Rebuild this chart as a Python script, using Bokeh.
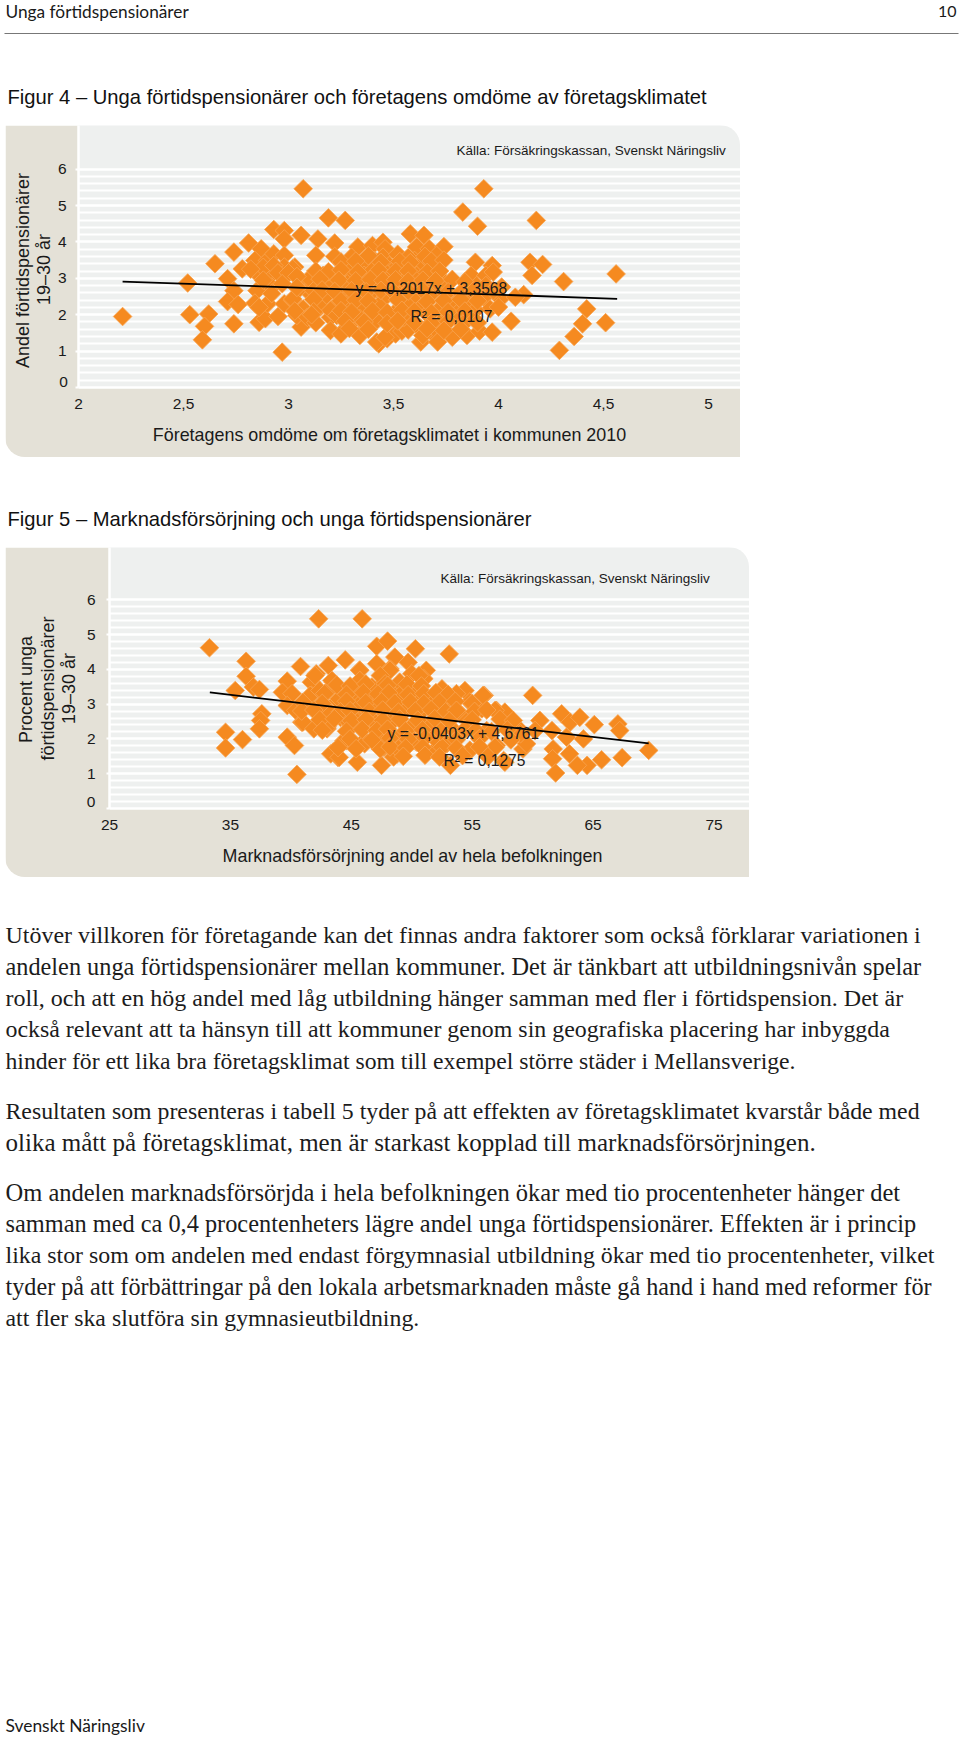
from math import pi
from bokeh.plotting import figure
from bokeh.models import Range1d, FixedTicker, ColumnDataSource
from bokeh.core.properties import value
from bokeh.embed import file_html
from bokeh.resources import INLINE

fig4_x = [2.21,2.52,2.53,2.62,2.65,2.60,2.59,2.74,2.74,2.71,2.78,2.74,2.71,2.76,2.81,2.87,2.84,2.9,2.93,2.86,2.85,2.84,2.86,2.89,2.9,2.95,2.98,2.97,2.93,2.98,2.98,3.06,3.07,3.19,3.27,3.14,3.22,3.13,3.22,2.98,2.98,3.03,2.98,2.92,2.92,3.06,3.09,3.09,3.02,3.06,3.06,3.15,3.2,3.25,3.34,
3.83,3.90,3.58,3.645,3.33,3.40,3.45,3.46,3.61,3.67,3.74,3.705,3.28,3.35,3.41,3.45,3.48,3.515,3.60,3.64,3.69,3.71,3.89,3.97,3.87,3.94,3.975,3.02,3.10,3.165,3.29,3.36,3.40,3.47,3.53,3.61,3.67,3.74,3.21,3.28,3.35,3.42,3.48,3.555,3.63,3.70,3.896,3.94,3.05,3.12,3.18,3.245,3.325,3.39,3.46,3.53,3.60,3.67,3.80,3.86,3.93,4.01,3.96,3.89,3.02,3.07,3.15,3.21,3.28,3.35,3.43,3.50,3.56,3.64,3.72,3.80,3.86,3.04,3.09,3.20,3.245,3.31,3.39,3.41,3.20,3.25,3.34,3.43,3.47,3.51,3.54,3.57,3.63,3.63,3.69,3.71,3.78,3.85,3.91,3.97,3.64,3.75,3.55,3.66,3.72,
3.93,4.18,4.15,4.21,4.16,4.31,4.56,4.12,4.08,4.42,4.40,4.36,4.51,4.29,4.06,4.0,3.976,4.015,3.2,3.23,3.28,3.34,3.42,3.42,3.46,
3.30,3.38,3.52,3.57,3.65,3.25,3.32,3.44,3.53,3.58,3.68,3.74,3.13,3.19,3.25,3.33,3.43,3.51,3.57,3.66,3.72,3.15,3.24,3.32,3.39,3.45,3.51,3.57,3.64,3.70,3.78,3.84,3.16,3.22,3.30,3.37,3.44,3.50,3.57,3.64,3.76,3.82,3.88,3.12,3.25,3.32,3.38,3.52,3.66,3.74,3.82,3.90,3.12,3.25,3.30,3.40,3.47,3.54,3.60,3.68,3.76,3.84,3.13,3.27,3.36,3.47,3.52,3.60,3.68,3.76,3.83,3.90,3.29,3.38,3.66,3.74,3.82,2.88,2.93,2.95,2.88,2.92,2.86,3.0,3.04,3.04,2.97,3.03,3.11,2.82]
fig4_y = [1.95,2.87,2.0,2.02,3.40,1.68,1.31,3.72,1.75,2.99,3.26,2.66,2.36,2.28,3.97,3.81,3.49,3.49,3.67,3.08,2.66,2.32,1.79,1.89,2.30,1.95,2.30,0.97,4.34,4.31,4.08,4.18,5.46,4.66,4.59,4.08,3.97,3.63,3.6,3.63,3.31,3.31,3.03,3.12,2.76,2.94,2.94,2.66,2.39,2.12,1.66,2.21,1.57,1.49,1.47,
4.82,4.43,4.22,4.18,3.86,3.90,3.99,3.81,3.86,3.81,3.87,3.63,3.35,3.40,3.49,3.58,3.35,3.31,3.49,3.40,3.31,3.12,3.44,3.35,3.08,3.08,3.17,3.26,2.99,3.08,3.21,3.08,3.21,3.12,3.03,3.08,3.03,2.89,2.89,2.85,2.80,2.80,2.80,2.76,2.80,2.66,2.80,2.80,2.71,2.66,2.53,2.57,2.48,2.57,2.48,2.53,2.53,2.53,2.34,2.34,2.48,2.44,2.16,2.12,2.43,2.16,2.21,2.16,2.30,2.21,2.25,2.02,2.30,2.25,2.16,2.02,1.93,1.98,1.93,1.93,2.02,1.84,1.93,1.84,1.57,1.47,1.43,1.20,1.34,1.47,1.55,1.58,1.61,1.25,1.47,1.25,1.38,1.43,1.55,1.52,1.43,1.84,1.93,2.02,1.75,
5.46,4.59,3.44,3.38,3.08,2.91,3.12,2.55,2.48,2.16,1.75,1.40,1.78,1.02,1.82,2.21,2.66,2.76,2.12,1.98,2.12,1.89,1.84,1.25,1.38,
3.58,3.62,3.66,3.57,3.6,3.45,3.47,3.44,3.46,3.43,3.47,3.5,3.2,3.18,3.23,3.17,3.22,3.19,3.2,3.16,3.2,2.98,2.95,2.93,2.97,2.94,2.96,2.92,2.95,2.93,2.97,2.9,2.68,2.64,2.66,2.63,2.67,2.62,2.65,2.66,2.63,2.6,2.65,2.42,2.38,2.4,2.37,2.41,2.36,2.39,2.42,2.38,2.08,2.11,2.07,2.1,2.06,2.12,2.09,2.05,2.08,2.1,1.78,1.82,1.8,1.76,1.83,1.79,1.77,1.81,1.74,1.78,1.62,1.6,1.62,1.57,1.6,3.3,3.35,3.15,2.95,2.58,2.2,3.15,3.05,2.75,2.85,2.1,2.0,3.25]

fig5_x = [33.27,36.3,36.3,35.4,36.9,37.4,37.6,37.5,37.4,34.6,34.6,36.0,39.7,40.3,40.5,40.8,39.7,39.3,40.1,39.7,40.4,40.9,42.3,45.9,44.5,43.1,42.1,41.7,43.5,41.7,43.1,43.9,41.5,42.6,44.1,41.9,43.0,43.5,43.9,44.6,45.5,47.5,47.1,48.0,48.6,47.1,45.7,48.2,45.9,47.7,45.3,46.8,48.5,45.5,47.25,44.9,46.1,47,47.7,48.8,48.2,
50.3,53.1,49.7,51.2,45.7,48.2,42,43.4,45.7,47.4,50,49,51,52.5,54.4,56,53.7,41.6,42.4,44,45.3,46.7,47.8,49,50.4,51.7,52.9,54.8,55.8,57,57.7,43.1,44.4,45.7,47,48.2,49.6,51,54,54.6,41.0,41.9,43,45.5,46.8,48.35,50.1,51.7,53.2,56.2,44.4,46.1,47.4,49.0,50.4,52,52.9,54.8,57,43.3,44,48.5,47.4,48.9,53.2,57.6,
60,55.9,56.9,58.7,60.6,60.2,61.6,62.4,63.1,63.9,62.8,64.2,65.1,67.05,67.2,69.6,67.4,65.7,64.5,63.7,63.05,61.7,61.65,61.9,59.2,59.5,56.9,54.8,52.5,57.7,50.15,58.1,59,51.8,50.6,
43.8,44.9,46.2,48,49.6,50.8,42.8,44.6,46,47.2,48.1,49.7,51,52,53,41,42.6,44.6,46.2,47.5,48.6,49.9,51,52.3,53.6,55,40.9,41.9,44.1,44.9,46.5,47.6,48.9,50.3,51.6,52.8,53.7,55.2,56.2,42.4,43.6,45,46.2,47.6,49,50.5,51.9,53.1,55,57.3,58.4,42.6,44.6,45.9,47.1,48,49.5,50.9,52.4,54.4,55.3,56.6,57.9,44.9,46.7,48.2,49.7,51.1,53.7,55.6,58.2,43.9,45.4,48.2,49.5,50.9,53.7,55.6,49.3,51.1,52.3,54.2,56.3]
fig5_y = [4.62,4.23,3.80,3.39,3.49,3.42,2.72,2.53,2.29,2.19,1.74,1.98,2.05,1.81,0.98,4.08,3.66,3.34,3.30,2.96,2.82,2.48,5.45,5.45,4.27,4.11,3.87,3.63,3.63,3.25,3.39,3.10,2.96,2.82,2.62,2.34,2.29,1.62,1.47,1.95,1.33,1.24,4.66,4.81,4.35,4.16,3.98,4.01,3.58,3.63,3.2,3.25,3.39,2.86,2.91,2.43,1.95,2.43,1.76,1.57,2.15,
4.59,4.44,4.20,3.97,3.97,3.97,3.82,3.68,3.68,3.82,3.87,3.63,3.73,3.44,3.39,3.25,3.30,3.25,3.39,3.15,3.34,3.49,3.58,3.25,3.34,3.15,3.10,3.06,2.86,2.82,2.77,2.82,2.62,3.0,2.96,2.86,2.86,2.86,2.72,2.53,2.48,2.29,2.34,2.48,2.53,2.48,2.39,2.43,2.34,2.24,1.95,1.86,1.95,2.05,1.91,1.71,1.86,1.67,1.81,1.57,1.47,1.48,1.71,1.71,1.24,1.38,
3.25,3.25,2.82,2.34,2.53,2.24,2.24,2.72,2.48,2.62,2.05,2.0,2.41,2.43,2.24,1.67,1.46,1.40,1.24,1.24,1.57,1.71,1.43,1.02,1.71,1.86,1.76,1.67,1.76,1.33,1.95,2.43,2.15,2.05,3.82,
3.55,3.52,3.58,3.54,3.57,3.52,3.3,3.28,3.33,3.29,3.32,3.27,3.3,3.33,3.28,3.05,3.02,3.08,3.04,3.07,3.03,3.06,3.02,3.05,3.08,3.02,2.8,2.83,2.78,2.81,2.79,2.83,2.77,2.8,2.84,2.78,2.82,2.79,2.83,2.55,2.58,2.52,2.56,2.53,2.57,2.54,2.58,2.52,2.55,2.57,2.53,2.25,2.22,2.27,2.24,2.28,2.23,2.26,2.22,2.27,2.24,2.21,2.26,2.0,1.97,2.02,1.99,2.03,1.98,2.01,1.97,1.75,1.72,1.77,1.74,1.76,1.73,1.77,1.5,1.53,1.48,1.52,1.49]

fig4_fit = (-0.2017, 3.3568, 2.21, 4.565)
fig5_fit = (-0.0403, 4.6761, 33.3, 69.6)
fig4_x_ticks = [2, 2.5, 3, 3.5, 4, 4.5, 5]
fig5_x_ticks = [25, 35, 45, 55, 65, 75]
y_ticks = [0, 1, 2, 3, 4, 5, 6]

header = "Unga förtidspensionärer"
page_no = "10"
footer = "Svenskt Näringsliv"
title4 = "Figur 4 – Unga förtidspensionärer och företagens omdöme av företagsklimatet"
title5 = "Figur 5 – Marknadsförsörjning och unga förtidspensionärer"
source = "Källa: Försäkringskassan, Svenskt Näringsliv"
body_lines = [
 "Utöver villkoren för företagande kan det finnas andra faktorer som också förklarar variationen i",
 "andelen unga förtidspensionärer mellan kommuner. Det är tänkbart att utbildningsnivån spelar",
 "roll, och att en hög andel med låg utbildning hänger samman med fler i förtidspension. Det är",
 "också relevant att ta hänsyn till att kommuner genom sin geografiska placering har inbyggda",
 "hinder för ett lika bra företagsklimat som till exempel större städer i Mellansverige.",
 "Resultaten som presenteras i tabell 5 tyder på att effekten av företagsklimatet kvarstår både med",
 "olika mått på företagsklimat, men är starkast kopplad till marknadsförsörjningen.",
 "Om andelen marknadsförsörjda i hela befolkningen ökar med tio procentenheter hänger det",
 "samman med ca 0,4 procentenheters lägre andel unga förtidspensionärer. Effekten är i princip",
 "lika stor som om andelen med endast förgymnasial utbildning ökar med tio procentenheter, vilket",
 "tyder på att förbättringar på den lokala arbetsmarknaden måste gå hand i hand med reformer för",
 "att fler ska slutföra sin gymnasieutbildning.",
]
body_y = [934, 966, 997, 1028, 1060, 1110, 1142, 1192, 1223, 1254, 1286, 1317]
body_px = [23.94, 24.3, 24.03, 23.9, 23.7, 23.8, 25.0, 24.5, 24.35, 23.86, 24.2, 23.8]

BEIGE = "#E4E1D7"
GREY = "#EEF0EF"
ORANGE = "#F58A20"
SANS = "Liberation Sans"


def place(left, top):
    return {"position": "absolute", "left": f"{left}px", "top": f"{top}px"}


def page_part(top, bottom, clear=False):
    p = figure(width=960, height=bottom - top, x_range=Range1d(0, 960), y_range=Range1d(bottom, top),
               toolbar_location=None, output_backend="svg", min_border=0, outline_line_color=None,
               styles=place(0, top))
    p.axis.visible = False
    p.grid.visible = False
    if clear:
        p.background_fill_color = None
        p.border_fill_color = None
    return p


def ptext(p, x, y, s, font=SANS, size="15.5px", color="#1a1a1a", align="left", angle=0.0):
    # the overlay's y range runs downward, so a reading-upward text keeps a positive screen angle
    p.text([x], [y], text=[s], text_font=value(font), text_font_size=size, text_color=color,
           text_align=align, text_baseline="middle", angle=angle)


def chart(page_left, page_top, w, h, left, bottom, xr, yr, xticks, fit, xs, ys, y_standoff):
    styles = place(page_left, page_top)
    styles.update({"border-radius": "0 20px 0 20px", "overflow": "hidden"})
    p = figure(width=w, height=h, x_range=Range1d(*xr), y_range=Range1d(*yr), toolbar_location=None,
               output_backend="svg", min_border_left=left, min_border_right=0, min_border_top=0,
               min_border_bottom=bottom, background_fill_color=GREY, border_fill_color=BEIGE,
               outline_line_color=None, styles=styles)
    p.xaxis.ticker = FixedTicker(ticks=xticks)
    p.yaxis.ticker = FixedTicker(ticks=y_ticks, minor_ticks=[i / 5 for i in range(31)])
    p.xaxis.major_label_overrides = {t: str(t).replace(".", ",") for t in xticks}
    p.yaxis.major_label_overrides = {0: ""}
    for ax in (p.xaxis[0], p.yaxis[0]):
        ax.axis_line_color = "white"
        ax.axis_line_width = 2.5
        ax.major_tick_line_color = "white"
        ax.major_tick_line_width = 2
        ax.major_tick_in = 0
        ax.minor_tick_line_color = None
        ax.major_label_text_font = SANS
        ax.major_label_text_font_size = "15.5px"
        ax.major_label_text_color = "#1a1a1a"
    p.xaxis.major_tick_out = 0
    p.xaxis.major_label_standoff = 11
    p.yaxis.major_tick_out = 3
    p.yaxis.major_label_standoff = y_standoff
    p.xgrid.visible = False
    p.ygrid.grid_line_color = "white"
    p.ygrid.grid_line_width = 2.2
    p.ygrid.minor_grid_line_color = "white"
    p.ygrid.minor_grid_line_width = 2.2
    p.ygrid.ticker = p.yaxis[0].ticker
    src = ColumnDataSource(dict(x=xs, y=ys))
    p.scatter("x", "y", source=src, marker="square", size=13.2, angle=pi / 4, fill_color=ORANGE,
              line_color="#F9A452", line_width=0.8)
    a, b, x0, x1 = fit
    p.line([x0, x1], [a * x0 + b, a * x1 + b], line_color="black", line_width=1.8)
    return p


top_part = page_part(0, 125)
ptext(top_part, 5, 11, header, "Lato", "17.3px")
ptext(top_part, 956, 11, page_no, "Lato", "16px", align="right")
top_part.line([4, 958], [33, 33], line_color="#777777", line_width=1.2)
ptext(top_part, 7, 96, title4, SANS, "20.2px", color="#111111")

c4 = chart(5, 125, 735, 332, 73, 70, (2, 2 + 662 / 210), (0, 262 / 36.4), fig4_x_ticks, fig4_fit, fig4_x, fig4_y, 8)
o4 = page_part(125, 457, clear=True)
ptext(o4, 22, 270, "Andel förtidspensionärer", size="18px", align="center", angle=pi / 2)
ptext(o4, 43, 269, "19–30 år", size="18px", align="center", angle=pi / 2)
ptext(o4, 63, 381.5, "0", align="center")
ptext(o4, 389, 434, "Företagens omdöme om företagsklimatet i kommunen 2010", size="17.9px", align="center")
ptext(o4, 456, 149.5, source, size="13.5px")
ptext(o4, 355, 288, "y = -0,2017x + 3,3568", size="15.6px")
ptext(o4, 410, 316, "R² = 0,0107", size="15.6px")

mid_part = page_part(457, 547)
ptext(mid_part, 7, 518, title5, SANS, "20.2px", color="#111111")

c5 = chart(5, 547, 744, 330, 104, 69, (25, 25 + 640 / 12.09), (0, 261 / 34.8), fig5_x_ticks, fig5_fit, fig5_x, fig5_y, 10)
o5 = page_part(547, 877, clear=True)
ptext(o5, 25, 689, "Procent unga", size="18px", align="center", angle=pi / 2)
ptext(o5, 47, 688, "förtidspensionärer", size="18px", align="center", angle=pi / 2)
ptext(o5, 68, 688, "19–30 år", size="18px", align="center", angle=pi / 2)
ptext(o5, 90.5, 801.5, "0", align="center")
ptext(o5, 412, 855, "Marknadsförsörjning andel av hela befolkningen", size="17.9px", align="center")
ptext(o5, 440, 577.5, source, size="13.5px")
ptext(o5, 387, 733, "y = -0,0403x + 4,6761", size="15.6px")
ptext(o5, 443, 760, "R² = 0,1275", size="15.6px")

bottom_part = page_part(877, 1738)
for y, line, px in zip(body_y, body_lines, body_px):
    ptext(bottom_part, 5, y, line, "Liberation Serif", f"{px}px", color="#1c1c1c")
ptext(bottom_part, 5, 1725, footer, "Lato", "17.4px")

open("out.html", "w").write(file_html([top_part, c4, o4, mid_part, c5, o5, bottom_part], INLINE))
